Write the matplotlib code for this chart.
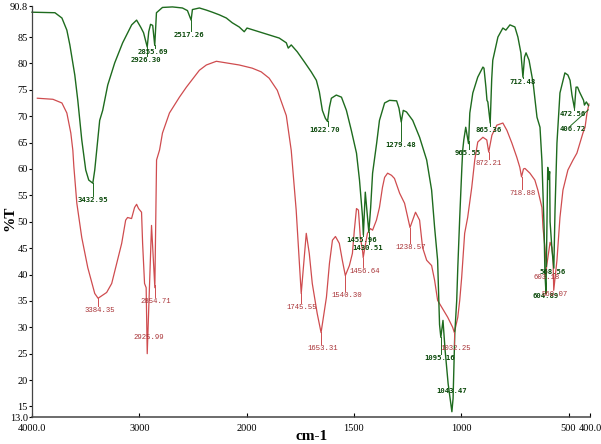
import numpy as np
import matplotlib
matplotlib.use('Agg')
import matplotlib.pyplot as plt


# -----------------------------------------------------------------------------------------------
# data (wavenumber in cm-1, transmittance in %T)

# green spectrum
green_wn = [4000, 3786, 3721, 3675, 3647, 3601, 3573, 3536, 3499, 3471, 3433, 3415, 3387, 3369, 3341,
            3294, 3229, 3155, 3071, 3025, 2985, 2960, 2926, 2912, 2895, 2875, 2856, 2840, 2784, 2691,
            2598, 2551, 2517, 2505, 2440, 2375, 2319, 2254, 2189, 2134, 2069, 2022, 1998, 1951, 1895,
            1848, 1815, 1806, 1792, 1764, 1731, 1699, 1675, 1661, 1647, 1633, 1623, 1614, 1605, 1582,
            1558, 1535, 1512, 1488, 1474, 1460, 1456, 1447, 1430.5, 1422, 1413, 1394, 1381, 1357, 1334,
            1301, 1290, 1279.5, 1270, 1255, 1226, 1194, 1161, 1138, 1124, 1110, 1101, 1095, 1085, 1075,
            1061, 1043.5, 1038, 1030, 1021, 1016, 1007, 997, 993, 988, 979, 966, 960, 946, 923,
            899, 894, 885, 880, 876, 865, 858, 853, 829, 806, 792, 773, 750, 736, 722,
            712.5, 705, 698, 684, 665, 647, 633, 624, 614, 610, 605, 597, 592, 588, 586,
            577, 568.5, 563, 554, 540, 517, 503, 493, 484, 472.5, 465, 458, 449, 430, 426,
            417, 407]
green_t = [89.7, 89.6, 88.6, 86.3, 83.5, 77.8, 73.0, 65.5, 59.8, 57.9, 57.3, 59.8, 65.5, 69.2, 71.1,
           75.9, 80.1, 83.9, 87.3, 88.2, 86.8, 85.8, 83.1, 86.0, 87.4, 87.2, 83.4, 89.6, 90.6, 90.7,
           90.5, 90.0, 88.2, 90.2, 90.5, 90.1, 89.7, 89.2, 88.6, 87.7, 86.9, 86.0, 86.7, 86.1, 85.4,
           84.8, 83.9, 82.9, 83.5, 82.2, 80.3, 78.4, 76.8, 74.6, 71.1, 69.6, 69.0, 71.7, 73.4, 74.0,
           73.6, 71.1, 67.3, 63.0, 57.9, 51.0, 47.5, 55.6, 48.0, 52.7, 59.2, 64.9, 69.2, 72.5, 73.0,
           72.9, 71.5, 68.9, 71.1, 70.8, 69.2, 66.0, 61.7, 56.0, 48.9, 42.7, 30.5, 28.1, 31.3, 25.6,
           19.3, 14.0, 16.5, 28.8, 35.1, 41.3, 50.8, 60.3, 63.6, 65.5, 67.9, 64.8, 70.6, 74.4, 77.4,
           79.3, 79.1, 75.5, 73.0, 72.7, 68.7, 77.0, 80.6, 85.0, 86.7, 86.3, 87.3, 86.9, 85.0, 82.0,
           77.4, 81.2, 82.0, 80.6, 76.3, 69.8, 67.9, 61.5, 49.0, 40.2, 36.4, 60.3, 58.0, 59.5, 50.0,
           44.6, 41.2, 52.2, 64.9, 74.4, 78.2, 77.8, 76.8, 74.0, 71.5, 75.5, 75.5, 74.6, 73.0, 72.1,
           72.7, 72.0]

# red spectrum
red_wn = [3950, 3805, 3721, 3675, 3638, 3619, 3610, 3582, 3536, 3480, 3415, 3384, 3304, 3257, 3211,
          3164, 3127, 3109, 3072, 3044, 3025, 3007, 2979, 2969, 2951, 2936, 2926, 2886, 2855, 2839,
          2811, 2784, 2719, 2626, 2561, 2440, 2375, 2282, 2189, 2069, 1974, 1932, 1895, 1857, 1815,
          1792, 1769, 1755, 1745.5, 1722, 1708, 1694, 1671, 1653, 1628, 1614, 1600, 1586, 1568, 1554,
          1540, 1521, 1507, 1498, 1488, 1479, 1470, 1460, 1456.6, 1451, 1437, 1423, 1413, 1395, 1381,
          1367, 1357, 1343, 1325, 1311, 1287, 1264, 1238.6, 1213, 1194, 1180, 1161, 1138, 1124, 1110,
          1091, 1063, 1040, 1032, 1016, 1007, 998, 984, 970, 951, 937, 923, 899, 881, 872,
          857, 834, 806, 787, 764, 741, 727, 719, 710, 703, 680, 657, 643, 624, 619,
          610, 603, 586, 577, 572, 569, 554, 540, 526, 503, 479, 461, 447, 433, 423,
          414, 405]
red_t = [73.4, 73.2, 72.5, 70.6, 66.8, 63.5, 60.5, 53.5, 47.0, 41.3, 36.4, 35.5, 36.6, 38.3, 42.1,
         45.9, 50.3, 50.8, 50.6, 52.7, 53.3, 52.5, 51.8, 45.9, 38.3, 37.5, 25.0, 49.3, 37.5, 61.7,
         63.6, 66.8, 70.6, 73.6, 75.5, 78.7, 79.7, 80.4, 80.1, 79.7, 79.1, 78.4, 77.2, 74.9, 70.1,
         63.5, 52.2, 42.7, 36.4, 47.8, 44.0, 38.3, 32.6, 29.0, 35.7, 42.1, 46.5, 47.2, 45.9, 42.7,
         39.8, 41.7, 44.0, 48.4, 52.5, 52.2, 47.0, 44.6, 43.2, 44.6, 47.8, 48.7, 48.4, 50.3, 52.7,
         56.5, 58.4, 59.2, 58.8, 58.2, 55.4, 53.5, 48.9, 51.8, 50.3, 45.1, 42.7, 41.7, 38.9, 35.1,
         33.8, 31.9, 30.0, 29.0, 31.9, 35.1, 39.4, 47.8, 50.8, 56.5, 61.7, 65.1, 66.0, 65.5, 63.2,
         66.4, 68.3, 68.7, 67.3, 64.9, 62.2, 60.3, 58.5, 60.0, 60.1, 59.2, 57.9, 56.0, 52.7, 48.9,
         45.1, 41.3, 46.1, 45.1, 42.7, 37.0, 42.7, 50.8, 56.0, 59.8, 61.7, 63.0, 64.9, 66.8, 67.9,
         70.6, 72.3]

# peak labels
green_peaks = [3432.95, 2926.30, 2855.69, 2517.26, 1622.70, 1455.96, 1430.51, 1279.48, 1095.16,
               1043.47, 965.55, 865.36, 712.48, 604.89, 568.56, 472.56, 406.72]
red_peaks = [3384.35, 2925.99, 2854.71, 1745.55, 1653.31, 1540.30, 1456.64, 1238.57, 1032.25,
             872.21, 718.88, 603.18, 569.07]

# where the label texts sit
green_label_x = [3433, 2942, 2877, 2533, 1635, 1465, 1437, 1282, 1099, 1047, 970, 872, 716, 605, 573, 481, 481]
green_label_y = [54.1, 80.6, 82.2, 85.4, 67.3, 46.5, 45.0, 64.5, 24.1, 18.0, 63.0, 67.3, 76.5, 36.0, 40.4, 70.4, 67.5]
red_label_x = [3369, 2914, 2849, 1741, 1647, 1535, 1451, 1236, 1026, 872, 716, 600, 565]
red_label_y = [33.2, 28.1, 34.9, 33.8, 26.0, 36.0, 40.6, 45.1, 26.0, 61.1, 55.4, 39.4, 36.2]

# axis ticks
x_ticks = [4000, 3000, 2000, 1500, 1000, 500, 400]
x_tick_labels = ['4000.0', '3000', '2000', '1500', '1000', '500', '400.0']
y_ticks = [13, 15, 20, 25, 30, 35, 40, 45, 50, 55, 60, 65, 70, 75, 80, 85, 90.8]
y_tick_labels = ['13.0', '15', '20', '25', '30', '35', '40', '45', '50', '55', '60', '65', '70',
                 '75', '80', '85', '90.8']

green_line = '#1e6b1e'
green_text = '#0c4a0c'
red_line = '#cf4c4f'
red_text = '#a83236'


# -----------------------------------------------------------------------------------------------
# x scale: the part below 2000 cm-1 is stretched twice

def forward(w):
    w = np.asarray(w, dtype=float)
    return np.where(w >= 2000, w, 2 * w - 2000)


def inverse(u):
    u = np.asarray(u, dtype=float)
    return np.where(u >= 2000, u, (u + 2000) / 2)


# -----------------------------------------------------------------------------------------------
# draw

figure = plt.figure(figsize=(6.01, 4.44), dpi=100)
axes = figure.add_axes([0.0532, 0.0608, 0.9285, 0.9248])
axes.set_xscale('function', functions=(forward, inverse))
axes.set_xlim(4000, 400)
axes.set_ylim(13, 90.8)

axes.plot(red_wn, red_t, color=red_line, linewidth=0.9, clip_on=False)
axes.plot(green_wn, green_t, color=green_line, linewidth=1.0, clip_on=False)


# labels with their short leader lines
def put_labels(wn, t, peaks, lx, ly, line_color, text_color, family, weight):
    wn_r = np.array(wn[::-1], dtype=float)
    t_r = np.array(t[::-1], dtype=float)
    for i in range(len(peaks)):
        if peaks[i] == 406.72:
            continue
        dip = np.interp(peaks[i], wn_r, t_r)
        top = ly[i] + 0.8
        if dip > top:
            axes.plot([peaks[i], peaks[i]], [dip, top], color=line_color, linewidth=0.7)
        axes.text(lx[i], ly[i], '%.2f' % peaks[i], color=text_color, fontsize=5.2,
                  family=family, weight=weight, ha='center', va='center')


put_labels(green_wn, green_t, green_peaks, green_label_x, green_label_y,
           green_line, green_text, 'DejaVu Sans Mono', 'bold')
put_labels(red_wn, red_t, red_peaks, red_label_x, red_label_y,
           red_line, red_text, 'Liberation Mono', 'normal')

# the last green label has a slanted leader to the end of the curve
i = green_peaks.index(406.72)
axes.plot([490, 408], [68.2, 71.2], color=green_line, linewidth=0.7)
axes.text(green_label_x[i], green_label_y[i], '%.2f' % green_peaks[i], color=green_text,
          fontsize=5.2, family='DejaVu Sans Mono', weight='bold', ha='center', va='center')

# axes look
axes.spines['top'].set_visible(False)
axes.spines['right'].set_visible(False)
axes.spines['left'].set_color('#444444')
axes.spines['bottom'].set_color('#444444')
axes.spines['left'].set_linewidth(0.9)
axes.spines['bottom'].set_linewidth(1.1)

axes.set_xticks(x_ticks)
axes.set_xticklabels(x_tick_labels)
axes.set_yticks(y_ticks)
axes.set_yticklabels(y_tick_labels)
axes.xaxis.set_minor_locator(matplotlib.ticker.NullLocator())
axes.tick_params(axis='x', direction='in', length=3, width=0.8, pad=5, labelsize=7.5)
axes.tick_params(axis='y', direction='out', length=2, width=0.8, pad=1, labelsize=7.5)
for lab in axes.get_xticklabels() + axes.get_yticklabels():
    lab.set_family('Liberation Serif')

figure.text(0.016, 0.509, '%T', rotation=90, fontsize=11, weight='bold',
            family='Liberation Serif', ha='center', va='center')
figure.text(0.519, 0.016, 'cm-1', fontsize=11, weight='bold',
            family='Liberation Serif', ha='center', va='center')

figure.savefig('out.png', dpi=100)
